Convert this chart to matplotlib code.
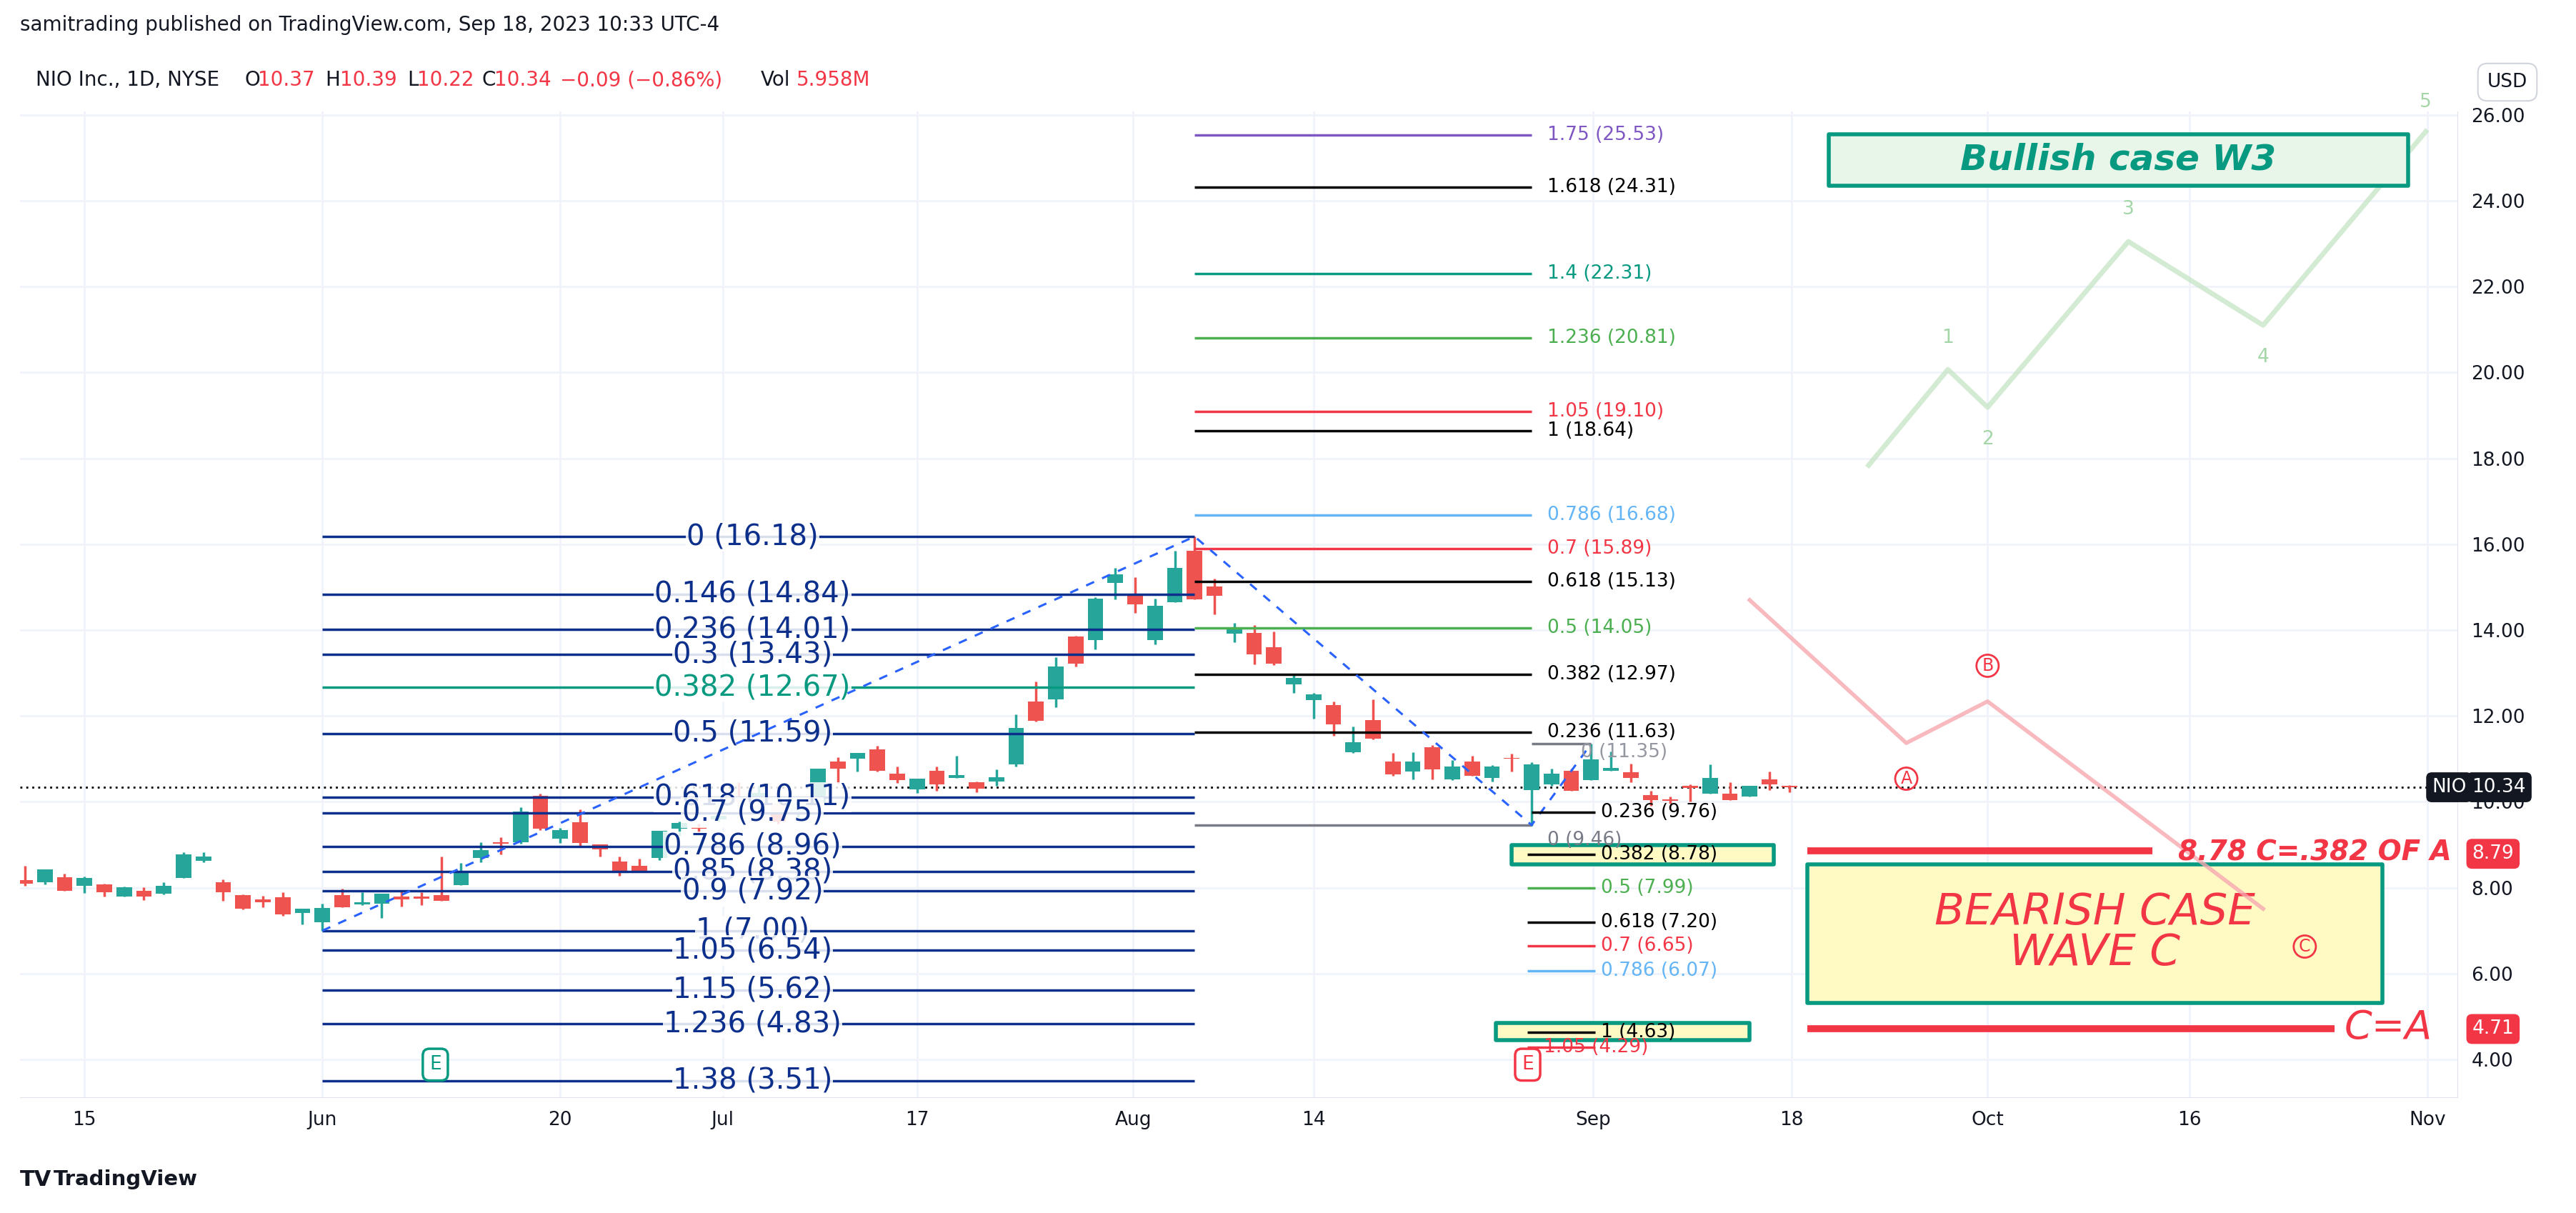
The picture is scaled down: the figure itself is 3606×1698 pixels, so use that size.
import matplotlib
matplotlib.use("Agg")
import matplotlib.pyplot as plt
import numpy as np

# candles from May 10 2023 (bar index 0) to Sep 18 2023
opens = [8.17, 8.12, 8.24, 8.04, 8.08, 7.79, 7.93, 7.87, 8.22, 8.62, 8.13, 7.83, 7.73, 7.78, 7.42, 7.20,
         7.83, 7.61, 7.63, 7.79, 7.80, 7.83, 8.06, 8.70, 9.06, 9.06, 10.14, 9.15, 9.53, 9.01, 8.61, 8.51,
         8.70, 9.38, 9.40, 9.60, 10.13, 9.99, 9.96, 9.73, 9.95, 10.94, 11.00, 11.22, 10.66, 10.29, 10.72,
         10.56, 10.45, 10.48, 10.87, 12.33, 12.38, 13.85, 13.77, 15.10, 14.85, 13.77, 14.65, 15.85, 15.01,
         13.92, 13.94, 13.60, 12.74, 12.37, 12.25, 11.16, 11.90, 10.94, 10.71, 11.27, 10.52, 10.94, 10.56,
         11.03, 10.28, 10.40, 10.72, 10.51, 10.72, 10.69, 10.15, 10.04, 10.37, 10.19, 10.19, 10.13, 10.52, 10.37]
highs = [8.51, 8.42, 8.32, 8.26, 8.09, 8.03, 8.01, 8.13, 8.83, 8.83, 8.20, 7.84, 7.82, 7.90, 7.51, 7.63,
         7.97, 7.89, 7.86, 7.94, 7.89, 8.73, 8.57, 9.06, 9.17, 9.88, 10.19, 9.39, 9.83, 9.01, 8.73, 8.68,
         9.33, 9.54, 9.49, 10.07, 10.46, 10.37, 9.98, 10.07, 10.77, 11.04, 11.14, 11.30, 10.82, 10.54, 10.82,
         11.08, 10.48, 10.75, 12.04, 12.81, 13.37, 13.87, 14.77, 15.45, 15.24, 14.74, 15.85, 16.18, 15.20,
         14.17, 14.12, 13.97, 12.99, 12.54, 12.34, 11.76, 12.39, 11.14, 11.16, 11.32, 10.98, 11.08, 10.86,
         11.12, 10.92, 10.77, 10.77, 11.35, 11.17, 10.89, 10.26, 10.12, 10.40, 10.87, 10.46, 10.37, 10.70, 10.39]
lows = [8.04, 8.08, 7.92, 7.88, 7.80, 7.79, 7.71, 7.84, 8.22, 8.59, 7.70, 7.50, 7.54, 7.34, 7.14, 6.99,
        7.54, 7.59, 7.29, 7.57, 7.59, 7.69, 8.06, 8.59, 8.78, 9.03, 9.35, 9.05, 8.96, 8.73, 8.27, 8.37,
        8.65, 9.21, 9.24, 9.54, 9.78, 9.82, 9.49, 9.65, 9.79, 10.43, 10.70, 10.71, 10.44, 10.20, 10.26,
        10.56, 10.22, 10.38, 10.83, 11.87, 12.20, 13.15, 13.55, 14.72, 14.40, 13.66, 14.65, 14.71, 14.37,
        13.72, 13.20, 13.19, 12.54, 11.93, 11.54, 11.14, 11.46, 10.61, 10.53, 10.53, 10.50, 10.60, 10.48,
        10.70, 9.45, 10.37, 10.25, 10.51, 10.72, 10.46, 9.90, 9.96, 10.01, 10.19, 10.04, 10.13, 10.28, 10.22]
closes = [8.10, 8.42, 7.92, 8.22, 7.89, 8.01, 7.79, 8.05, 8.78, 8.73, 7.89, 7.51, 7.67, 7.38, 7.51, 7.53,
          7.54, 7.66, 7.86, 7.73, 7.75, 7.70, 8.38, 8.88, 9.02, 9.78, 9.38, 9.34, 9.05, 8.90, 8.40, 8.37,
          9.33, 9.51, 9.38, 9.67, 10.00, 10.21, 9.54, 9.97, 10.77, 10.78, 11.14, 10.72, 10.51, 10.54, 10.40,
          10.62, 10.30, 10.57, 11.72, 11.89, 13.16, 13.22, 14.74, 15.30, 14.60, 14.57, 15.45, 14.71, 14.80,
          14.07, 13.44, 13.22, 12.88, 12.50, 11.81, 11.39, 11.47, 10.64, 10.94, 10.76, 10.82, 10.61, 10.82,
          11.00, 10.87, 10.66, 10.25, 10.99, 10.79, 10.56, 10.04, 10.02, 10.33, 10.55, 10.04, 10.37, 10.41, 10.34]

tick_pos = [3, 15, 27, 35.2, 45, 55.9, 65, 79.1, 89.1, 99, 109.2, 121.2]
tick_lab = ["15", "Jun", "20", "Jul", "17", "Aug", "14", "Sep", "18", "Oct", "16", "Nov"]

# fib retracement on the May-Aug swing
fib1_lvls = [0, 0.146, 0.236, 0.3, 0.382, 0.5, 0.618, 0.7, 0.786, 0.85, 0.9, 1, 1.05, 1.15, 1.236, 1.38]
fib1_px = [16.18, 14.84, 14.01, 13.43, 12.67, 11.59, 10.11, 9.75, 8.96, 8.38, 7.92, 7.00, 6.54, 5.62, 4.83, 3.51]
# fib levels on the Aug-Sep drop
fib2_lvls = ["1.75", "1.618", "1.4", "1.236", "1.05", "1", "0.786", "0.7", "0.618", "0.5", "0.382", "0.236", "0"]
fib2_px = [25.53, 24.31, 22.31, 20.81, 19.10, 18.64, 16.68, 15.89, 15.13, 14.05, 12.97, 11.63, 9.46]
fib2_col = ["#7e57c2", "black", "#089981", "#4caf50", "#f23645", "black", "#64b5f6", "#f23645",
            "black", "#4caf50", "black", "black", "#787b86"]
# trend-based extension from the Sep low
fib3_lvls = ["0.236", "0.382", "0.5", "0.618", "0.7", "0.786", "1", "1.05"]
fib3_px = [9.76, 8.78, 7.99, 7.20, 6.65, 6.07, 4.63, 4.29]
fib3_col = ["black", "black", "#4caf50", "black", "#f23645", "#64b5f6", "black", "#f23645"]

swing_x = [15, 59, 76, 79]
swing_y = [7.00, 16.18, 9.46, 11.35]

bull_x = [93.0, 97.0, 99.0, 106.1, 112.9, 121.1]
bull_y = [17.84, 20.07, 19.19, 23.05, 21.10, 25.61]
bear_x = [87.0, 94.9, 99.0, 112.9]
bear_y = [14.70, 11.37, 12.34, 7.51]

W, H = 3606, 1698
fig = plt.figure(figsize=(W / 100, H / 100), dpi=100)
ax = fig.add_axes([28 / W, (H - 1536) / H, (3440 - 28) / W, (1536 - 156) / H])
ax.set_xlim(-0.25, 122.7)
ax.set_ylim(3.12, 26.08)

GREEN, RED = "#26a69a", "#ef5350"
yt = np.arange(4, 27, 2)
ax.set_yticks(yt)
ax.set_yticklabels([f"{v:.2f}" for v in yt])
ax.yaxis.tick_right()
ax.set_xticks(tick_pos)
ax.set_xticklabels(tick_lab)
ax.tick_params(labelsize=19, length=0, colors="#131722", pad=14)
ax.grid(True, color="#f0f3fa", lw=2)
ax.set_axisbelow(True)
for s in ["top", "left"]:
    ax.spines[s].set_visible(False)
ax.spines["right"].set_color("#e0e3eb")
ax.spines["bottom"].set_color("#e0e3eb")

# candles
for i, (o, h, l, c) in enumerate(zip(opens, highs, lows, closes)):
    col = GREEN if c >= o else RED
    ax.vlines(i, l, h, color=col, lw=2.5, zorder=3)
    ax.bar(i, max(abs(c - o), 0.03), bottom=min(o, c), width=0.78, color=col, zorder=4)

ax.axhline(closes[-1], color="black", ls=(0, (1, 2)), lw=2, zorder=2)

# fib 1
for lv, p in zip(fib1_lvls, fib1_px):
    col = "#089981" if lv == 0.382 else "#0d2f8c"
    ax.hlines(p, 15, 59, color=col, lw=2.5, zorder=5)
    ax.text(36.7, p, f"{lv:g} ({p:.2f})", color=col, fontsize=29, ha="center", va="center", zorder=6,
            bbox=dict(facecolor="white", edgecolor="none", pad=1, alpha=0.85))

ax.plot(swing_x, swing_y, color="#2962ff", ls=(0, (4, 4)), lw=2.2, zorder=6)

# fib 2
for lv, p, col in zip(fib2_lvls, fib2_px, fib2_col):
    ax.hlines(p, 59, 76, color=col, lw=2.5, zorder=5)
    ax.text(76.8, p - (0.35 if lv == "0" else 0), f"{lv} ({p:.2f})", color=col, fontsize=19,
            ha="left", va="center", zorder=6)

ax.hlines(11.35, 76, 79, color="#787b86", lw=2.5, zorder=5)
ax.text(78.5, 11.15, "0 (11.35)", color="#9598a1", fontsize=19, ha="left", va="center", zorder=6)

# fib 3 boxes
for y0, y1, x0, x1 in [(8.55, 9.0, 75.0, 88.2), (4.45, 4.85, 74.2, 87.0)]:
    ax.fill_between([x0, x1], y0, y1, facecolor="#fff9c4", edgecolor="#089981", lw=4, zorder=5)
for lv, p, col in zip(fib3_lvls, fib3_px, fib3_col):
    x0 = 76 if lv == "0.236" else 75.8
    ax.hlines(p, x0, 79.2, color=col, lw=2.5, zorder=6)
    xl = 76.6 if lv == "1.05" else 79.5
    ax.text(xl, p, f"{lv} ({p:.2f})", color=col, fontsize=19, ha="left", va="center", zorder=7)

# bearish scenario
ax.fill_between([89.9, 118.9], 5.32, 8.55, facecolor="#fff9c4", edgecolor="#089981", lw=4, zorder=5)
ax.text(104.4, 6.95, "BEARISH CASE\nWAVE C", color="#f23645", fontsize=44, fontstyle="italic",
        ha="center", va="center", linespacing=0.95, zorder=6)
ax.plot(bear_x, bear_y, color="#f7a8b0", lw=4, alpha=0.8, zorder=6)
for t, x, y in [("A", 94.9, 10.54), ("B", 99.0, 13.17), ("C", 115.0, 6.63)]:
    ax.text(x, y, t, color="#f23645", fontsize=17, ha="center", va="center", zorder=7,
            bbox=dict(boxstyle="circle,pad=0.15", facecolor="none", edgecolor="#f23645", lw=2))

ax.hlines(8.86, 89.9, 107.3, color="#f23645", lw=7, zorder=6)
ax.text(108.6, 8.82, "8.78 C=.382 OF A", color="#f23645", fontsize=28, fontstyle="italic",
        fontweight="bold", ha="left", va="center", zorder=7)
ax.hlines(4.71, 89.9, 116.5, color="#f23645", lw=7, zorder=6)
ax.text(117.0, 4.75, "C=A", color="#f23645", fontsize=40, fontstyle="italic", ha="left", va="center", zorder=7)

# bullish scenario
ax.plot(bull_x, bull_y, color="#c8e6c9", lw=5, alpha=0.8, zorder=4)
for t, x, y in [("1", 97.0, 20.8), ("2", 99.0, 18.45), ("3", 106.1, 23.8), ("4", 112.9, 20.35), ("5", 121.1, 26.3)]:
    ax.text(x, y, t, color="#a5d6a7", fontsize=19, ha="center", va="center", zorder=6)
ax.fill_between([91.0, 120.2], 24.35, 25.55, facecolor="#e8f5e9", edgecolor="#089981", lw=4, zorder=5)
ax.text(105.6, 24.95, "Bullish case W3", color="#089981", fontsize=36, fontstyle="italic",
        fontweight="bold", ha="center", va="center", zorder=6)

# E markers
ax.text(20.7, 3.88, "E", color="#089981", fontsize=19, ha="center", va="center", zorder=7,
        bbox=dict(boxstyle="round,pad=0.35", facecolor="white", edgecolor="#089981", lw=2.5))
ax.text(75.8, 3.88, "E", color="#f23645", fontsize=19, ha="center", va="center", zorder=7,
        bbox=dict(boxstyle="round,pad=0.35", facecolor="white", edgecolor="#f23645", lw=2.5))

# price tags on the scale
def tag(price, txt, col, x=1.003):
    ax.text(x, price, txt, transform=ax.get_yaxis_transform(), color="white", fontsize=19,
            ha="left", va="center", zorder=8, clip_on=False,
            bbox=dict(boxstyle="round,pad=0.3", facecolor=col, edgecolor="none"))

tag(closes[-1], "10.34", "#131722", 1.006)
tag(8.79, "8.79", "#f23645", 1.006)
tag(4.71, "4.71", "#f23645", 1.006)
ax.text(0.9895, closes[-1], "NIO", transform=ax.get_yaxis_transform(), color="white", fontsize=19,
        ha="left", va="center", zorder=8, clip_on=False,
        bbox=dict(boxstyle="round,pad=0.3", facecolor="#131722", edgecolor="none"))

# header
fig.text(28 / W, 1 - 35 / H, "samitrading published on TradingView.com, Sep 18, 2023 10:33 UTC-4",
         fontsize=20, color="#131722", va="center")
hdr = [("NIO Inc., 1D, NYSE", 50, "#131722"), ("O", 342, "#131722"), ("10.37", 361, "#f23645"),
       ("H", 455, "#131722"), ("10.39", 476, "#f23645"), ("L", 570, "#131722"), ("10.22", 584, "#f23645"),
       ("C", 674, "#131722"), ("10.34", 692, "#f23645"), ("\u22120.09 (\u22120.86%)", 784, "#f23645"),
       ("Vol", 1065, "#131722"), ("5.958M", 1115, "#f23645")]
for t, x, c in hdr:
    fig.text(x / W, 1 - 112 / H, t, fontsize=20, color=c, va="center")
fig.text(3510 / W, 1 - 115 / H, "USD", fontsize=19, color="#131722", ha="center", va="center",
         bbox=dict(boxstyle="round,pad=0.5", facecolor="white", edgecolor="#d1d4dc", lw=1.5))
fig.text(28 / W, 1 - 1651 / H, "TV", fontsize=22, fontweight="bold", color="#131722", va="center")
fig.text(75 / W, 1 - 1651 / H, "TradingView", fontsize=21, fontweight="bold", color="#131722", va="center")

fig.savefig("out.png", dpi=100, facecolor="white")
